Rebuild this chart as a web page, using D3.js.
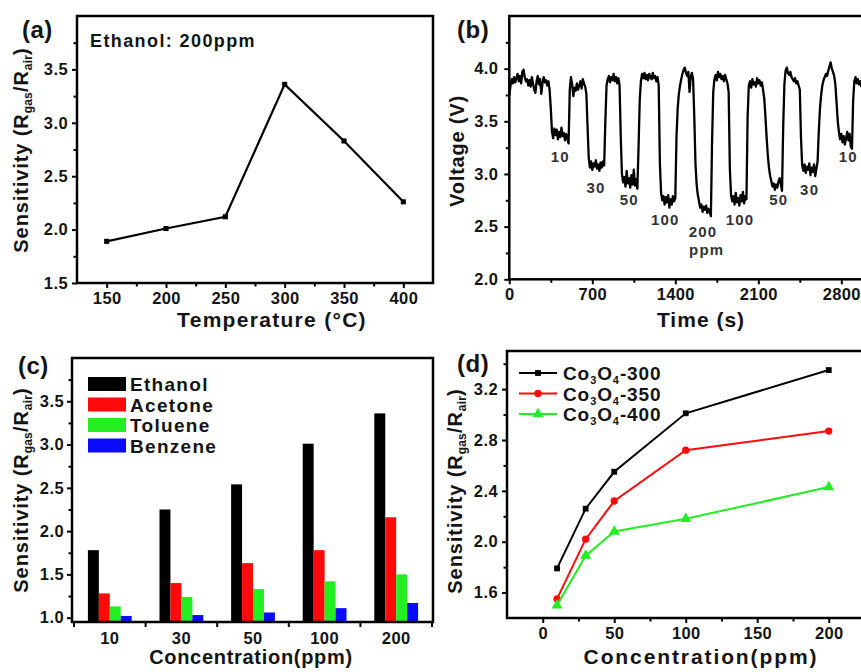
<!DOCTYPE html>
<html>
<head>
<meta charset="utf-8">
<script src="https://cdn.jsdelivr.net/npm/d3@7"></script>
<style>
  body { margin: 0; background: #fff; }
  svg { display: block; font-family: "Liberation Sans", Arial, Helvetica, sans-serif; }
</style>
</head>
<body>
<svg id="fig" width="861" height="672"></svg>
<script>
// ---------- (a) sensitivity vs operating temperature ----------
const temperatures = [150, 200, 250, 300, 350, 400];
const tempSensitivity = [1.89, 2.01, 2.12, 3.36, 2.83, 2.26];

// ---------- (b) dynamic voltage response, one sample every 10 s ----------
const traceStep = 10;
const traceVoltage = [
  // baseline, 0-340 s
  3.74, 3.84, 3.90, 3.86, 3.92, 3.87, 3.91, 3.95, 3.88, 3.93, 3.86, 3.97, 3.99, 3.92, 3.88, 3.90, 3.84, 3.89,
  3.83, 3.92, 3.86, 3.80, 3.77, 3.88, 3.93, 3.85, 3.90, 3.76, 3.86, 3.92, 3.87, 3.89, 3.84, 3.88, 3.80,
  // 10 ppm
  3.62, 3.40, 3.34, 3.43, 3.37, 3.42, 3.33, 3.40, 3.35, 3.44, 3.36, 3.39, 3.32, 3.38, 3.34, 3.29,
  3.80, 3.92, 3.85, 3.74, 3.82, 3.79, 3.86, 3.80, 3.84, 3.88, 3.81, 3.90, 3.86, 3.83, 3.76,
  // 30 ppm
  3.45, 3.15, 3.06, 3.12, 3.04, 3.10, 3.07, 3.13, 3.05, 3.09, 3.03, 3.11, 3.06, 3.12, 3.08,
  3.50, 3.84, 3.90, 3.93, 3.87, 3.92, 3.89, 3.95, 3.88, 3.92, 3.86, 3.91, 3.84,
  // 50 ppm
  3.35, 3.00, 2.92, 2.97, 2.88, 3.03, 2.91, 2.96, 2.87, 2.99, 2.90, 3.04, 2.89, 2.95, 2.86,
  3.25, 3.70, 3.88, 3.95, 3.91, 3.96, 3.90, 3.94, 3.89, 3.95, 3.92, 3.90, 3.96, 3.91, 3.93, 3.88, 3.92, 3.84,
  // 100 ppm
  3.10, 2.82, 2.75, 2.79, 2.71, 2.78, 2.73, 2.80, 2.68, 2.76, 2.71, 2.79, 2.74, 2.77,
  3.35, 3.62, 3.76, 3.84, 3.90, 3.95, 3.99, 4.01, 3.96, 3.93, 3.97, 3.78, 3.92, 3.96, 3.90,
  // 200 ppm
  3.55, 3.10, 2.90, 2.80, 2.74, 2.68, 2.71, 2.64, 2.69, 2.66, 2.70, 2.63, 2.67, 2.64, 2.60,
  3.30, 3.78, 3.90, 3.94, 3.89, 3.97, 3.92, 3.95, 3.90, 3.93, 3.88, 3.94, 3.90, 3.86, 3.78,
  // 100 ppm
  3.05, 2.80, 2.74, 2.79, 2.71, 2.82, 2.73, 2.77, 2.70, 2.80, 2.74, 2.83, 2.72, 2.79, 2.76,
  3.55, 3.84, 3.88, 3.82, 3.90, 3.85, 3.87, 3.83, 3.91, 3.86, 3.89, 3.84, 3.87, 3.80, 3.72,
  // 50 ppm
  3.55, 3.35, 3.18, 3.06, 2.98, 2.93, 2.88, 2.91, 2.85, 2.90, 2.87, 2.93, 2.96, 2.90, 2.84,
  3.45, 3.85, 3.98, 4.01, 3.96, 3.94, 3.97, 3.92, 3.90, 3.88, 3.91, 3.86, 3.88, 3.84, 3.80,
  // 30 ppm
  3.35, 3.08, 3.03, 3.09, 3.01, 3.07, 3.04, 3.10, 2.99, 3.06, 3.02, 3.09, 2.98, 3.05, 3.12,
  3.40, 3.62, 3.75, 3.84, 3.89, 3.92, 3.95, 3.93, 3.98, 4.02, 4.06, 4.00, 3.97, 3.93, 3.85,
  // 10 ppm
  3.68, 3.50, 3.40, 3.33, 3.38, 3.30, 3.36, 3.28, 3.34, 3.40, 3.32, 3.38, 3.26, 3.24,
  3.70, 3.88, 3.92, 3.86, 3.90, 3.85, 3.88, 3.83, 3.87, 3.84
];
// concentration annotations (text, time in s, voltage in V)
const pulseText = ["10", "30", "50", "100", "200", "ppm", "100", "50", "30", "10"];
const pulseTime = [430, 731, 1011, 1315, 1634, 1665, 1946, 2273, 2533, 2859];
const pulseVolt = [3.11, 2.82, 2.71, 2.52, 2.40, 2.23, 2.52, 2.71, 2.80, 3.11];

// ---------- (c) selectivity at each concentration ----------
const concLabels = ["10", "30", "50", "100", "200"];
const gasNames = ["Ethanol", "Acetone", "Toluene", "Benzene"];
const ethanolResp = [1.78, 2.25, 2.54, 3.01, 3.36];
const acetoneResp = [1.28, 1.40, 1.63, 1.78, 2.16];
const tolueneResp = [1.13, 1.24, 1.33, 1.42, 1.50];
const benzeneResp = [1.02, 1.03, 1.06, 1.11, 1.17];

// ---------- (d) sensitivity vs concentration for three samples ----------
const concentrations = [10, 30, 50, 100, 200];
const sampleNames = ["300", "350", "400"];
const co300 = [1.79, 2.26, 2.55, 3.01, 3.35];
const co350 = [1.55, 2.02, 2.32, 2.72, 2.87];
const co400 = [1.50, 1.89, 2.08, 2.18, 2.43];

const svg = d3.select("#fig");
svg.append("rect").attr("width", 861).attr("height", 672).attr("fill", "#fff");

const INK = "#141414";
const TICK_FONT = 16.5;

function frameRect(x0, y0, x1, y1) {
  svg.append("rect")
    .attr("x", x0).attr("y", y0)
    .attr("width", x1 - x0).attr("height", y1 - y0)
    .attr("fill", "none").attr("stroke", "#000").attr("stroke-width", 2.5);
}

function styleAxis(g) {
  g.select(".domain").remove();
  g.selectAll(".tick line").attr("stroke", "#000").attr("stroke-width", 2);
  g.selectAll(".tick text")
    .attr("fill", INK)
    .attr("font-size", TICK_FONT)
    .attr("font-weight", "bold")
    .attr("letter-spacing", 0.4);
}

function addAxes(o) {
  const gx = svg.append("g").attr("transform", `translate(0,${o.yPix})`)
    .call(d3.axisBottom(o.x).tickValues(o.xMajor).tickSize(5).tickPadding(4)
      .tickSizeOuter(0).tickFormat(o.xFmt || d3.format("d")));
  styleAxis(gx);
  if (o.xMinor) {
    const gxm = svg.append("g").attr("transform", `translate(0,${o.yPix})`)
      .call(d3.axisBottom(o.x).tickValues(o.xMinor).tickSize(3.5).tickFormat(""));
    styleAxis(gxm);
  }
  const gy = svg.append("g").attr("transform", `translate(${o.xPix},0)`)
    .call(d3.axisLeft(o.y).tickValues(o.yMajor).tickSize(5).tickPadding(o.yPad)
      .tickSizeOuter(0).tickFormat(d3.format(".1f")));
  styleAxis(gy);
  const gym = svg.append("g").attr("transform", `translate(${o.xPix},0)`)
    .call(d3.axisLeft(o.y).tickValues(o.yMinor).tickSize(3.5).tickFormat(""));
  styleAxis(gym);
}

function panelLetter(txt, x, y) {
  svg.append("text").attr("x", x).attr("y", y)
    .attr("font-size", 24).attr("font-weight", "bold").attr("fill", INK)
    .attr("letter-spacing", 0.5).text(txt);
}

function xTitle(txt, cx, y, size, ls) {
  svg.append("text").attr("x", cx).attr("y", y).attr("text-anchor", "middle")
    .attr("font-size", size).attr("font-weight", "bold").attr("fill", INK)
    .attr("letter-spacing", ls).text(txt);
}

function sensitivityTitle(bx, cy) {
  const t = svg.append("text")
    .attr("transform", `translate(${bx},${cy}) rotate(-90)`)
    .attr("text-anchor", "middle").attr("font-size", 20).attr("font-weight", "bold")
    .attr("fill", INK).attr("letter-spacing", 0.9);
  t.append("tspan").text("Sensitivity (R");
  t.append("tspan").attr("font-size", 12).attr("dy", 4).attr("letter-spacing", 0.2).text("gas");
  t.append("tspan").attr("dy", -4).text("/R");
  t.append("tspan").attr("font-size", 12).attr("dy", 4).attr("letter-spacing", 0.2).text("air");
  t.append("tspan").attr("dy", -4).text(")");
}

// ================= (a) =================
{
  const L = 77, R = 433, T = 16, B = 283;
  const x = d3.scaleLinear().domain([125, 425]).range([L, R]);
  const y = d3.scaleLinear().domain([1.5, 4.0]).range([B, T]);
  addAxes({ x, y, xPix: L, yPix: B,
    xMajor: temperatures, xMinor: [175, 225, 275, 325, 375],
    yMajor: [1.5, 2.0, 2.5, 3.0, 3.5], yMinor: [1.75, 2.25, 2.75, 3.25, 3.75], yPad: 4 });
  const pts = temperatures.map((t, i) => [t, tempSensitivity[i]]);
  svg.append("path").datum(pts)
    .attr("d", d3.line().x(d => x(d[0])).y(d => y(d[1])))
    .attr("fill", "none").attr("stroke", "#000").attr("stroke-width", 2.2);
  svg.append("g").selectAll("path").data(pts).join("path")
    .attr("transform", d => `translate(${x(d[0])},${y(d[1])})`)
    .attr("d", d3.symbol(d3.symbolSquare, 26)).attr("fill", "#000");
  frameRect(L, T, R, B);
  svg.append("text").attr("x", 90).attr("y", 47).attr("font-size", 18).attr("font-weight", "bold")
    .attr("fill", INK).attr("letter-spacing", 1.4).text("Ethanol: 200ppm");
  panelLetter("(a)", 22, 38);
  sensitivityTitle(28, 150);
  xTitle("Temperature (°C)", 272, 327, 21, 1.3);
}

// ================= (b) =================
{
  const L = 509.3, T = 16, B = 279.3;
  const x = d3.scaleLinear().domain([0, 3000]).range([L, L + 3000 * 83 / 700]);
  const y = d3.scaleLinear().domain([2.0, 4.5]).range([B, T]);
  addAxes({ x, y, xPix: L, yPix: B,
    xMajor: [0, 700, 1400, 2100, 2800], xMinor: [350, 1050, 1750, 2450],
    yMajor: [2.0, 2.5, 3.0, 3.5, 4.0], yMinor: [2.25, 2.75, 3.25, 3.75, 4.25], yPad: 6 });
  svg.append("path").datum(traceVoltage)
    .attr("d", d3.line().x((d, i) => x(i * traceStep)).y(d => y(d)))
    .attr("fill", "none").attr("stroke", "#000").attr("stroke-width", 2.3)
    .attr("stroke-linejoin", "round");
  svg.append("g").selectAll("text").data(pulseText).join("text")
    .attr("x", (d, i) => x(pulseTime[i])).attr("y", (d, i) => y(pulseVolt[i]))
    .attr("text-anchor", "middle").attr("font-size", 15).attr("font-weight", "bold")
    .attr("fill", "#333").attr("letter-spacing", 1.2).text(d => d);
  frameRect(L, T, x.range()[1], B);
  panelLetter("(b)", 457, 38);
  svg.append("text")
    .attr("transform", `translate(464,151) rotate(-90)`)
    .attr("text-anchor", "middle").attr("font-size", 20).attr("font-weight", "bold")
    .attr("fill", INK).attr("letter-spacing", 0.8).text("Voltage (V)");
  xTitle("Time (s)", 701, 327, 21, 1.0);
}

// ================= (c) =================
{
  const L = 72, R = 433, T = 358, B = 622;
  const x = d3.scaleBand().domain(concLabels).range([74, 432]);
  const inner = d3.scaleBand().domain(gasNames).range([0, x.bandwidth()]).paddingOuter(1.27);
  const y = d3.scaleLinear().domain([0.95, 4.0]).range([B, T]);
  const gasColors = ["#000000", "#ff0a0a", "#22ee22", "#0a0aff"];
  const series = [ethanolResp, acetoneResp, tolueneResp, benzeneResp];

  series.forEach((vals, s) => {
    svg.append("g").selectAll("rect").data(vals).join("rect")
      .attr("x", (d, i) => x(concLabels[i]) + inner(gasNames[s]))
      .attr("width", inner.bandwidth())
      .attr("y", d => y(d))
      .attr("height", d => y(0.95) - y(d))
      .attr("fill", gasColors[s]);
  });

  // category labels under each group, ticks on the group boundaries
  const gx = svg.append("g").attr("transform", `translate(0,${B})`)
    .call(d3.axisBottom(x).tickSize(0).tickPadding(10));
  styleAxis(gx);
  const bounds = concLabels.map(c => x(c)).concat([x.range()[1]]);
  svg.append("g").selectAll("line").data(bounds).join("line")
    .attr("x1", d => d).attr("x2", d => d).attr("y1", B).attr("y2", B + 5)
    .attr("stroke", "#000").attr("stroke-width", 2);

  const gy = svg.append("g").attr("transform", `translate(${L},0)`)
    .call(d3.axisLeft(y).tickValues([1.0, 1.5, 2.0, 2.5, 3.0, 3.5]).tickSize(5)
      .tickPadding(3).tickSizeOuter(0).tickFormat(d3.format(".1f")));
  styleAxis(gy);
  const gym = svg.append("g").attr("transform", `translate(${L},0)`)
    .call(d3.axisLeft(y).tickValues([1.25, 1.75, 2.25, 2.75, 3.25, 3.75]).tickSize(3.5).tickFormat(""));
  styleAxis(gym);

  frameRect(L, T, R, B);

  // legend
  const lg = svg.append("g");
  gasNames.forEach((name, i) => {
    const yy = 377 + i * 20.5;
    lg.append("rect").attr("x", 88).attr("y", yy).attr("width", 38).attr("height", 14)
      .attr("fill", gasColors[i]);
    lg.append("text").attr("x", 130).attr("y", yy + 14).attr("font-size", 19).attr("font-weight", "bold")
      .attr("fill", INK).attr("letter-spacing", 1.3).text(name);
  });

  panelLetter("(c)", 18, 374);
  sensitivityTitle(28, 490);
  xTitle("Concentration(ppm)", 251, 664, 20, 0.7);
}

// ================= (d) =================
{
  const L = 507, T = 351, B = 618;
  const x = d3.scaleLinear().domain([-25, 225]).range([L, L + 250 * 71.5 / 50]);
  const y = d3.scaleLinear().domain([1.4, 3.5]).range([B, T]);
  addAxes({ x, y, xPix: L, yPix: B,
    xMajor: [0, 50, 100, 150, 200], xMinor: [25, 75, 125, 175],
    yMajor: [1.6, 2.0, 2.4, 2.8, 3.2], yMinor: [1.8, 2.2, 2.6, 3.0, 3.4], yPad: 4 });

  const sampleSeries = [co300, co350, co400];
  const sampleColors = ["#000000", "#ff0a0a", "#22ee22"];
  const sampleSymbols = [d3.symbol(d3.symbolSquare, 34), d3.symbol(d3.symbolCircle, 42), d3.symbol(d3.symbolTriangle, 52)];

  sampleSeries.forEach((vals, s) => {
    const pts = concentrations.map((c, i) => [c, vals[i]]);
    svg.append("path").datum(pts)
      .attr("d", d3.line().x(d => x(d[0])).y(d => y(d[1])))
      .attr("fill", "none").attr("stroke", sampleColors[s]).attr("stroke-width", 2);
    svg.append("g").selectAll("path").data(pts).join("path")
      .attr("transform", d => `translate(${x(d[0])},${y(d[1])})`)
      .attr("d", sampleSymbols[s]).attr("fill", sampleColors[s]);
  });

  frameRect(L, T, x.range()[1], B);

  // legend
  sampleNames.forEach((name, i) => {
    const yy = 373 + i * 20.5;
    svg.append("line").attr("x1", 519).attr("x2", 557).attr("y1", yy).attr("y2", yy)
      .attr("stroke", sampleColors[i]).attr("stroke-width", 2.2);
    svg.append("path").attr("transform", `translate(538,${yy})`)
      .attr("d", sampleSymbols[i]).attr("fill", sampleColors[i]);
    const t = svg.append("text").attr("x", 563).attr("y", yy + 7).attr("font-size", 19)
      .attr("font-weight", "bold").attr("fill", INK).attr("letter-spacing", 0.9);
    t.append("tspan").text("Co");
    t.append("tspan").attr("font-size", 11).attr("dy", 4).text("3");
    t.append("tspan").attr("dy", -4).text("O");
    t.append("tspan").attr("font-size", 11).attr("dy", 4).text("4");
    t.append("tspan").attr("dy", -4).text("-" + name);
  });

  panelLetter("(d)", 457, 372);
  sensitivityTitle(462, 491);
  xTitle("Concentration(ppm)", 701, 664, 21, 1.9);
}
</script>
</body>
</html>
